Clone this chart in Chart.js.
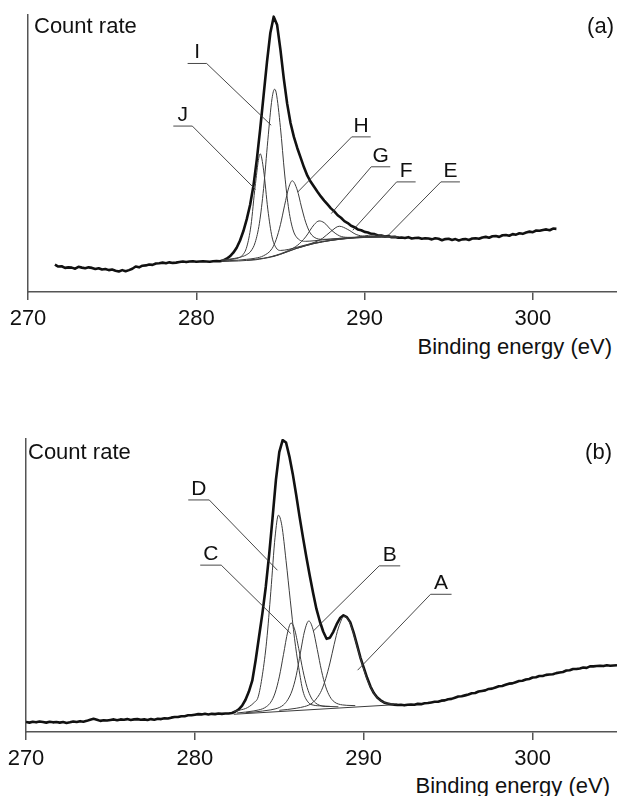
<!DOCTYPE html>
<html>
<head>
<meta charset="utf-8">
<title>C 1s spectra</title>
<script src="https://cdn.jsdelivr.net/npm/chart.js@4.4.1/dist/chart.umd.min.js"></script>
<style>
  html, body { margin: 0; padding: 0; background: #fff; }
  body { width: 617px; height: 796px; position: relative; overflow: hidden;
         font-family: 'Liberation Sans', Arial, sans-serif; color: #111; }
  .panel { position: absolute; left: 0; }
  .txt { position: absolute; font-size: 22px; line-height: 1; white-space: nowrap; }
</style>
</head>
<body>
<canvas id="spec-a" class="panel" width="617" height="332" style="top:0"></canvas>
<canvas id="spec-b" class="panel" width="617" height="348" style="top:424px"></canvas>

<div class="txt" style="left:34px; top:15px">Count rate</div>
<div class="txt" style="right:3px; top:15px">(a)</div>
<div class="txt" style="right:5px; top:336px">Binding energy (eV)</div>

<div class="txt" style="left:28px; top:441px">Count rate</div>
<div class="txt" style="right:5px; top:441px">(b)</div>
<div class="txt" style="right:7px; top:775px">Binding energy (eV)</div>

<script>
// Measured spectra are on a 0.2 eV grid, fitted components as [eV, count] pairs
const energyStep = 0.2

// ---- panel (a) ----
const aTotalStart = 271.6
const aTotal = [
  9.9, 9.2, 9.3, 8.7, 8.9, 8.8, 8.4, 9.1, 8.8, 8.6,
  8.9, 8.7, 8.3, 8.6, 8.1, 8.3, 7.9, 8.1, 7.7, 7.4,
  7.9, 7.5, 7.9, 8.4, 9.2, 8.9, 9.5, 9.6, 9.9, 9.8,
  10.3, 10.4, 10.6, 10.4, 10.7, 10.5, 10.6, 10.8, 11.0, 10.8,
  11.0, 11.1, 10.9, 11.0, 11.1, 11.0, 10.9, 11.1, 11.2, 11.1,
  11.4, 12.0, 12.9, 14.2, 16.0, 18.6, 22.0, 26.3, 31.5, 38.5,
  48.0, 59.0, 71.0, 83.0, 93.5, 99.4, 96.5, 87.5, 77.0, 68.0,
  61.0, 56.0, 52.0, 48.5, 45.0, 42.0, 39.8, 38.0, 36.2, 34.5,
  33.0, 31.6, 30.2, 29.1, 27.7, 26.8, 25.6, 24.9, 23.9, 23.4,
  22.6, 22.3, 21.7, 21.5, 21.0, 20.9, 20.4, 20.4, 20.0, 20.2,
  19.8, 19.9, 19.6, 19.7, 19.5, 19.8, 19.3, 19.5, 19.6, 19.2,
  19.4, 19.3, 19.0, 19.4, 19.2, 18.7, 19.1, 19.2, 18.8, 19.1,
  18.6, 19.0, 19.1, 18.8, 19.3, 19.4, 19.2, 19.7, 19.9, 19.6,
  20.1, 20.2, 19.9, 20.5, 20.6, 20.3, 20.9, 20.7, 21.2, 21.0,
  21.5, 21.8, 21.6, 22.2, 22.1, 22.4, 22.6, 22.3, 22.9, 22.8
]
const aBackground = [
  [281.5, 11.0], [282.0, 11.1], [282.5, 11.2], [283.0, 11.4], [283.5, 11.6],
  [284.0, 12.1], [284.5, 12.7], [285.0, 13.6], [285.5, 14.7], [286.0, 15.8],
  [286.5, 16.7], [287.0, 17.5], [287.5, 18.1], [288.0, 18.6], [288.5, 19.0],
  [289.0, 19.3], [289.5, 19.5], [290.0, 19.7], [290.5, 19.8], [291.0, 19.85],
  [291.5, 19.9], [292.0, 19.9]
]
const peakJ = [
  [281.5, 11.4], [282.0, 11.7], [282.5, 12.3], [282.75, 13.3], [283.0, 16.3],
  [283.25, 24.0], [283.5, 38.2], [283.8, 49.9], [284.0, 44.0], [284.25, 29.9],
  [284.5, 19.9], [284.75, 15.9], [285.0, 15.0], [285.5, 15.4], [286.0, 16.2],
  [286.5, 17.0], [287.0, 17.7], [288.0, 18.7], [289.0, 19.4], [290.0, 19.75],
  [291.0, 19.9], [292.0, 19.95]
]
const peakI = [
  [281.5, 11.6], [282.0, 11.9], [282.5, 12.4], [283.0, 13.5], [283.25, 14.8],
  [283.5, 17.9], [283.75, 24.8], [284.0, 37.4], [284.25, 54.7], [284.5, 69.8],
  [284.65, 73.2], [284.75, 71.9], [285.0, 59.4], [285.25, 42.6], [285.5, 29.6],
  [285.75, 22.4], [286.0, 19.5], [286.5, 18.3], [287.0, 18.5], [287.5, 18.8],
  [288.0, 19.1], [289.0, 19.6], [290.0, 19.9], [292.0, 20.0]
]
const peakH = [
  [281.5, 11.2], [282.5, 11.5], [283.0, 11.8], [283.5, 12.2], [284.0, 13.1],
  [284.5, 15.65], [284.75, 19.0], [285.0, 24.3], [285.25, 31.35], [285.5, 37.8],
  [285.7, 40.15], [286.0, 36.8], [286.25, 30.7], [286.5, 25.2], [286.75, 21.55],
  [287.0, 19.8], [287.5, 19.0], [288.0, 19.1], [288.5, 19.35], [289.0, 19.55],
  [290.0, 19.85], [292.0, 20.0]
]
const peakG = [
  [283.0, 11.45], [284.0, 12.2], [284.5, 12.85], [285.0, 13.8], [285.5, 15.06],
  [286.0, 16.8], [286.5, 19.9], [287.0, 24.3], [287.3, 25.66], [287.6, 25.0],
  [288.0, 22.5], [288.5, 20.3], [289.0, 19.73], [289.5, 19.72], [290.0, 19.85],
  [291.0, 19.93], [292.0, 19.95]
]
const peakF = [
  [284.5, 12.75], [285.0, 13.65], [285.5, 14.77], [286.0, 15.9], [286.5, 16.87],
  [287.0, 17.89], [287.5, 19.37], [288.0, 21.88], [288.5, 23.74], [289.0, 22.58],
  [289.5, 20.77], [290.0, 20.09], [290.5, 19.97], [291.0, 19.95], [292.0, 19.95]
]
const peakE = [
  [286.0, 15.82], [287.0, 17.51], [288.0, 18.62], [288.5, 19.03], [289.0, 19.37],
  [289.5, 19.72], [290.0, 20.25], [290.5, 20.6], [291.0, 20.4], [291.5, 20.12],
  [292.0, 19.97]
]
const aPeakLabels = [
  { text: 'I', x: 280.05, y: 82.5, tx: 284.45, ty: 60.2, side: 'right' },
  { text: 'J', x: 279.2, y: 59.9, tx: 283.52, ty: 37.0, side: 'right' },
  { text: 'H', x: 289.8, y: 56.0, tx: 286.03, ty: 36.1, side: 'left' },
  { text: 'G', x: 290.96, y: 45.2, tx: 288.02, ty: 28.3, side: 'left' },
  { text: 'F', x: 292.47, y: 39.75, tx: 289.3, ty: 22.3, side: 'left' },
  { text: 'E', x: 295.1, y: 39.75, tx: 291.4, ty: 20.4, side: 'left' }
]

// ---- panel (b) ----
const bTotalStart = 270.0
const bTotal = [
  3.4, 3.2, 3.5, 3.3, 3.6, 3.4, 3.2, 3.5, 3.3, 3.4,
  3.2, 3.4, 3.1, 3.3, 3.6, 3.4, 3.7, 3.5, 3.8, 4.2,
  4.5, 4.2, 3.8, 4.0, 3.9, 4.1, 4.3, 4.0, 4.3, 4.2,
  4.4, 4.1, 4.3, 4.4, 4.2, 4.3, 4.1, 4.4, 4.2, 4.5,
  4.4, 4.7, 4.6, 4.9, 5.1, 5.1, 5.4, 5.4, 5.7, 5.7,
  5.9, 6.1, 6.0, 6.2, 6.0, 6.2, 6.1, 6.3, 6.2, 6.3,
  6.3, 6.5, 7.0, 7.7, 9.0, 11.0, 13.8, 17.5, 24.5, 32.5,
  40.5, 49.5, 60.5, 73.0, 86.0, 95.5, 99.6, 98.8, 94.0, 88.0,
  81.0, 73.5, 66.5, 59.8, 53.5, 47.5, 42.0, 37.8, 34.3, 31.8,
  32.2, 34.2, 36.8, 38.9, 39.8, 39.2, 37.5, 34.0, 29.8, 25.5,
  22.0, 18.5, 15.5, 13.3, 11.8, 10.8, 10.1, 9.7, 9.5, 9.3,
  9.2, 9.3, 9.1, 9.3, 9.4, 9.3, 9.6, 9.5, 9.8, 9.9,
  10.1, 10.3, 10.3, 10.7, 10.8, 11.2, 11.3, 11.7, 12.1, 12.2,
  12.5, 12.8, 13.2, 13.3, 13.8, 14.0, 14.2, 14.7, 14.8, 15.2,
  15.6, 15.7, 16.1, 16.5, 16.6, 17.0, 17.4, 17.5, 17.9, 18.1,
  18.6, 18.7, 19.1, 19.1, 19.5, 19.6, 19.7, 20.1, 20.3, 20.5,
  21.0, 21.1, 21.5, 21.5, 21.7, 22.0, 21.9, 22.4, 22.4, 22.5,
  22.6, 22.5, 22.8, 22.6, 22.7, 22.8
]
const bBackground = [[282.3, 6.05], [291.8, 9.3]]
const peakD = [
  [282.3, 7.0], [282.75, 7.6], [283.0, 8.0], [283.25, 8.8], [283.5, 10.0],
  [283.75, 12.0], [284.0, 19.5], [284.25, 31.0], [284.5, 48.0], [284.75, 66.5],
  [284.95, 74.0], [285.15, 70.5], [285.4, 58.5], [285.65, 45.0], [285.9, 32.0],
  [286.15, 22.0], [286.4, 14.0], [286.75, 9.9], [287.0, 9.2], [287.5, 8.9],
  [288.0, 8.75]
]
const peakC = [
  [282.5, 6.5], [283.0, 6.8], [283.5, 7.2], [283.75, 7.5], [284.0, 7.9],
  [284.25, 8.7], [284.5, 10.2], [284.75, 13.3], [285.0, 18.8], [285.25, 26.5],
  [285.5, 34.2], [285.7, 37.2], [285.9, 35.2], [286.15, 28.5], [286.4, 21.0],
  [286.65, 15.2], [286.9, 11.6], [287.15, 9.9], [287.4, 9.1], [287.75, 8.7],
  [288.0, 8.7], [288.5, 8.6]
]
const peakB = [
  [283.0, 6.6], [283.5, 6.8], [284.0, 7.15], [284.5, 7.56], [284.75, 7.87],
  [285.0, 8.35], [285.25, 9.26], [285.5, 11.0], [285.75, 14.0], [286.0, 19.2],
  [286.25, 27.0], [286.5, 34.5], [286.75, 37.9], [287.0, 34.95], [287.25, 28.15],
  [287.5, 20.9], [287.75, 15.4], [288.0, 12.05], [288.25, 10.3], [288.5, 9.55],
  [288.75, 9.24], [289.0, 9.1], [289.5, 9.0]
]
const peakA = [
  [285.0, 7.4], [285.5, 7.7], [286.0, 8.1], [286.5, 8.7], [286.75, 9.2],
  [287.0, 10.1], [287.25, 11.75], [287.5, 14.2], [287.75, 18.2], [288.0, 23.55],
  [288.25, 29.9], [288.5, 35.5], [288.85, 39.5], [289.2, 37.0], [289.45, 32.5],
  [289.7, 27.3], [289.95, 22.4], [290.2, 18.0], [290.45, 14.8], [290.7, 12.4],
  [290.95, 10.9], [291.2, 10.1], [291.6, 9.7], [292.0, 9.6]
]
const bPeakLabels = [
  { text: 'D', x: 280.23, y: 79.2, tx: 284.89, ty: 55.2, side: 'right' },
  { text: 'C', x: 280.94, y: 56.95, tx: 285.68, ty: 33.6, side: 'right' },
  { text: 'B', x: 291.54, y: 56.7, tx: 287.02, ty: 34.5, side: 'left' },
  { text: 'A', x: 294.58, y: 47.0, tx: 289.64, ty: 21.1, side: 'left' }
]

const energyTicks = [270, 280, 290, 300]
const FONT = "'Liberation Sans', Arial, sans-serif"

const gridPoints = (start, values) =>
  values.map((v, i) => ({ x: +(start + i * energyStep).toFixed(1), y: v }))
const pairPoints = pairs => pairs.map(([x, y]) => ({ x, y }))

const measured = (start, values) => ({
  data: gridPoints(start, values),
  borderColor: '#111',
  borderWidth: 2.6,
  tension: 0
})
const fitted = pairs => ({
  data: pairPoints(pairs),
  borderColor: '#3c3c3c',
  borderWidth: 1,
  cubicInterpolationMode: 'monotone'
})

// Letter tags with underline and a leader line into the fitted peak
const peakLabelPlugin = {
  id: 'peakLabels',
  afterDatasetsDraw(chart, args, opts) {
    const { ctx, scales: { x, y } } = chart
    ctx.save()
    ctx.font = `21px ${FONT}`
    ctx.fillStyle = '#111'
    ctx.strokeStyle = '#333'
    ctx.lineWidth = 0.9
    ctx.textAlign = 'center'
    ctx.textBaseline = 'alphabetic'
    opts.items.forEach(item => {
      const cx = x.getPixelForValue(item.x)
      const cy = y.getPixelForValue(item.y)
      const half = opts.underline / 2
      const from = item.side === 'right' ? cx + half : cx - half
      ctx.beginPath()
      ctx.moveTo(cx - half, cy)
      ctx.lineTo(cx + half, cy)
      ctx.moveTo(from, cy)
      ctx.lineTo(x.getPixelForValue(item.tx), y.getPixelForValue(item.ty))
      ctx.stroke()
      ctx.fillText(item.text, cx, cy - 5)
    })
    ctx.restore()
  }
}

function buildPanel(canvasId, datasets, labels, leftPad, underline) {
  const ctx = document.getElementById(canvasId).getContext('2d')
  return new Chart(ctx, {
    type: 'line',
    data: { datasets },
    plugins: [peakLabelPlugin],
    options: {
      responsive: false,
      animation: false,
      events: [],
      layout: { padding: { left: leftPad, top: 15, right: 0, bottom: 0 } },
      elements: { point: { radius: 0 }, line: { borderJoinStyle: 'round' } },
      plugins: {
        legend: { display: false },
        tooltip: { enabled: false },
        peakLabels: { items: labels, underline }
      },
      scales: {
        x: {
          type: 'linear',
          min: 270,
          max: 305,
          afterFit: scale => { scale.height = 40 },
          afterBuildTicks: scale => { scale.ticks = energyTicks.map(value => ({ value })) },
          ticks: {
            color: '#111',
            padding: 6,
            maxRotation: 0,
            font: { family: FONT, size: 22 }
          },
          grid: {
            display: true,
            drawOnChartArea: false,
            drawTicks: true,
            tickLength: 8,
            color: '#555',
            lineWidth: 1.5
          },
          border: { display: true, color: '#555', width: 1.5 }
        },
        y: {
          min: 0,
          max: 100,
          afterFit: scale => { scale.width = 0 },
          ticks: { display: false },
          grid: { display: false },
          border: { display: true, color: '#555', width: 1.5 }
        }
      }
    }
  })
}

buildPanel('spec-a', [
  fitted(peakJ), fitted(peakI), fitted(peakH), fitted(peakG), fitted(peakF), fitted(peakE),
  fitted(aBackground),
  measured(aTotalStart, aTotal)
], aPeakLabels, 28, 19)

buildPanel('spec-b', [
  fitted(peakD), fitted(peakC), fitted(peakB), fitted(peakA),
  fitted(bBackground),
  measured(bTotalStart, bTotal)
], bPeakLabels, 26, 21)
</script>
</body>
</html>
